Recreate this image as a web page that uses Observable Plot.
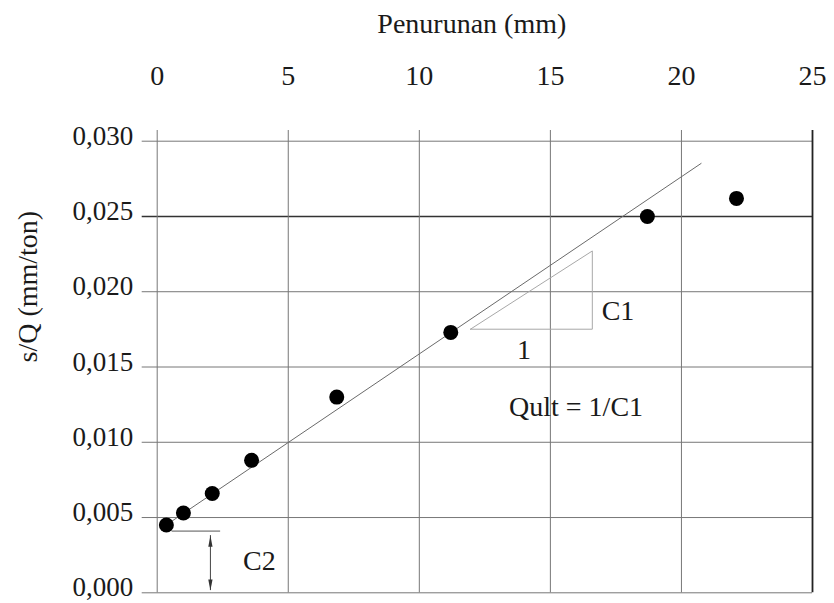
<!DOCTYPE html>
<html>
<head>
<meta charset="utf-8">
<script src="https://cdn.jsdelivr.net/npm/d3@7"></script>
<script src="https://cdn.jsdelivr.net/npm/@observablehq/plot@0.6"></script>
<style>
  body { margin: 0; background: #fff; }
</style>
</head>
<body>
<div id="chart"></div>
<script>
// Settlement of each load step (mm) and the matching s/Q ratio (mm/ton)
const settlement = [0.35, 1.0, 2.1, 3.6, 6.85, 11.2, 18.7, 22.1];
const sOverQ = [0.0045, 0.0053, 0.0066, 0.0088, 0.0130, 0.0173, 0.0250, 0.0262];

const xTicks = [0, 5, 10, 15, 20, 25];
const yTicks = [0, 0.005, 0.010, 0.015, 0.020, 0.025, 0.030];

// Straight-line fit  s/Q = C1 * s + C2
const C1 = 0.001177;
const C2 = 0.0041;
const fitRange = [0.35, 20.75];

// Slope triangle beside the fitted line
const triangleX = [11.95, 16.6, 16.6, 11.95];
const triangleY = [0.01751, 0.01751, 0.02271, 0.01751];

// Intercept marker: short level line at C2 and a double arrow down to zero
const c2LineX = [0.57, 2.42];
const c2ArrowX = 2.03;
const c2ArrowY = [0.00015, 0.0038];

// Annotation texts
const noteText = ["C1", "1", "Qult = 1/C1", "C2"];
const noteX = [17.58, 13.99, 15.98, 3.90];
const noteY = [0.01875, 0.0161, 0.01233, 0.00208];

const points = settlement.map((s, i) => ({s, q: sOverQ[i]}));
const fit = fitRange.map(s => ({s, q: C1 * s + C2}));
const triangle = triangleX.map((s, i) => ({s, q: triangleY[i]}));
const notes = noteText.map((t, i) => ({t, s: noteX[i], q: noteY[i]}));

// Slim filled arrowhead, tip at the anchor point, pointing up
const arrowHead = {
  draw(context, size) {
    const k = Math.sqrt(size);
    context.moveTo(0, 0);
    context.lineTo(k * 0.2, k * 1.05);
    context.lineTo(-k * 0.2, k * 1.05);
    context.closePath();
  }
};

const font = "'Liberation Serif', 'Times New Roman', serif";

const chart = Plot.plot({
  width: 834,
  height: 603,
  marginTop: 140.7,
  marginLeft: 156.7,
  marginRight: 22,
  marginBottom: 10.7,
  style: {fontFamily: font, fontSize: "28px", color: "#1a1a1a", background: "#fff"},
  x: {domain: [0, 25]},
  y: {domain: [0, 0.030]},
  marks: [
    // grid
    Plot.ruleY(yTicks.filter(d => d !== 0.025), {stroke: "#777", strokeWidth: 1, insetLeft: -15}),
    Plot.ruleY([0.025], {stroke: "#333", strokeWidth: 1.6, insetLeft: -15}),
    Plot.ruleX(xTicks.filter(d => d !== 25), {stroke: "#777", strokeWidth: 1, insetTop: -10.7}),
    Plot.ruleX([25], {stroke: "#222", strokeWidth: 1.8, insetTop: -10.7}),

    // axes
    Plot.axisX({anchor: "top", ticks: xTicks, tickSize: 0, tickPadding: 56, label: null, fontSize: 28}),
    Plot.axisY({anchor: "left", ticks: yTicks, tickSize: 0, tickPadding: 24, dy: -5, label: null, fontSize: 27,
      tickFormat: d => d.toFixed(3).replace(".", ",")}),
    Plot.text(["Penurunan (mm)"], {frameAnchor: "top", text: d => d, dx: -13, dy: -116.7,
      lineAnchor: "middle", fontSize: 28, fill: "#1a1a1a"}),
    Plot.text(["s/Q (mm/ton)"], {frameAnchor: "left", text: d => d, rotate: -90, dx: -128.7, dy: -4.5,
      lineAnchor: "middle", fontSize: 28, fill: "#1a1a1a"}),

    // fitted line and slope triangle
    Plot.line(fit, {x: "s", y: "q", stroke: "#6a6a6a", strokeWidth: 1}),
    Plot.line(triangle, {x: "s", y: "q", stroke: "#a8a8a8", strokeWidth: 1}),

    // C2 intercept marker
    Plot.ruleY([C2], {x1: c2LineX[0], x2: c2LineX[1], stroke: "#555", strokeWidth: 1}),
    Plot.ruleX([c2ArrowX], {y1: c2ArrowY[0], y2: c2ArrowY[1], stroke: "#444", strokeWidth: 1}),
    Plot.dot([c2ArrowY[1]], {x: () => c2ArrowX, y: d => d, symbol: arrowHead, r: 6, fill: "#333", stroke: "none"}),
    Plot.dot([c2ArrowY[0]], {x: () => c2ArrowX, y: d => d, symbol: arrowHead, r: 6, rotate: 180, fill: "#333", stroke: "none"}),

    // measured points
    Plot.dot(points, {x: "s", y: "q", r: 7.5, fill: "#000", stroke: "none"}),

    // annotations
    Plot.text(notes, {x: "s", y: "q", text: "t", fontSize: 28, fill: "#1a1a1a", lineAnchor: "middle"})
  ]
});

document.getElementById("chart").appendChild(chart);
</script>
</body>
</html>
